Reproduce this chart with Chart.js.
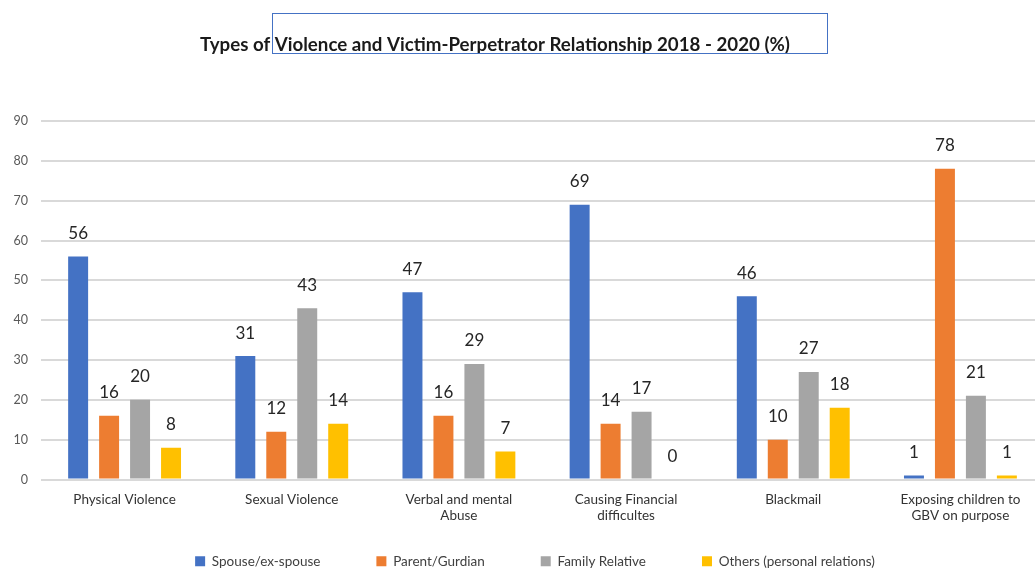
<!DOCTYPE html>
<html>
<head>
<meta charset="utf-8">
<title>Types of Violence and Victim-Perpetrator Relationship</title>
<script src="https://cdn.jsdelivr.net/npm/chart.js@4.4.1/dist/chart.umd.min.js"></script>
<style>
    html, body { margin: 0; padding: 0; background: #fff; overflow: hidden; }
    #wrap { position: relative; width: 1044px; height: 578px; }
</style>
</head>
<body>
<div id="wrap"><canvas id="violenceChart"></canvas></div>
<script>
const categories = [
    'Physical Violence',
    'Sexual Violence',
    ['Verbal and mental', 'Abuse'],
    ['Causing Financial', 'difficultes'],
    'Blackmail',
    ['Exposing children to', 'GBV on purpose']
];
const seriesNames = ['Spouse/ex-spouse', 'Parent/Gurdian', 'Family Relative', 'Others (personal relations)'];
const spouse = [56, 31, 47, 69, 46, 1];
const parent = [16, 12, 16, 14, 10, 78];
const familyRelative = [20, 43, 29, 17, 27, 21];
const others = [8, 14, 7, 0, 18, 1];
const yTicks = [0, 10, 20, 30, 40, 50, 60, 70, 80, 90];
const chartTitle = 'Types of Violence and Victim-Perpetrator Relationship 2018 - 2020 (%)';

const colors = ['#4472C4', '#ED7D31', '#A5A5A5', '#FFC000'];
const FONT = 'Lato, "Noto Sans", sans-serif';

// title and the text-box outline sitting on it
const titlePlugin = {
    id: 'excelTitle',
    afterDraw(chart) {
        const ctx = chart.ctx;
        ctx.save();
        ctx.font = 'bold 19.5px ' + FONT;
        ctx.fillStyle = '#1a1a1a';
        ctx.textAlign = 'center';
        ctx.textBaseline = 'middle';
        ctx.fillText(chartTitle, 495, 45, 590);
        ctx.strokeStyle = '#4472C4';
        ctx.lineWidth = 1;
        ctx.strokeRect(272.5, 13.5, 555, 40);
        ctx.restore();
    }
};

// value labels above each bar
const valueLabels = {
    id: 'valueLabels',
    afterDatasetsDraw(chart) {
        const ctx = chart.ctx;
        ctx.save();
        ctx.font = '17px ' + FONT;
        ctx.fillStyle = '#262626';
        ctx.textAlign = 'center';
        ctx.textBaseline = 'middle';
        chart.data.datasets.forEach((ds, i) => {
            chart.getDatasetMeta(i).data.forEach((bar, j) => {
                ctx.fillText(String(ds.data[j]), bar.x, bar.y - 23);
            });
        });
        ctx.restore();
    }
};

// tick labels spill past their narrow boxes, so don't clip them
function noLabelClip(scale) {
    scale._computeLabelArea = () => undefined;
}

const ctx = document.getElementById('violenceChart').getContext('2d');
new Chart(ctx, {
    type: 'bar',
    data: {
        labels: categories,
        datasets: [spouse, parent, familyRelative, others].map((d, i) => ({
            label: seriesNames[i],
            data: d,
            backgroundColor: colors[i],
            borderWidth: 0,
            categoryPercentage: 0.741,
            barPercentage: 0.645
        }))
    },
    options: {
        responsive: true,
        maintainAspectRatio: false,
        animation: false,
        layout: { padding: { top: 121, left: 26, right: 0, bottom: 0 } },
        plugins: {
            title: { display: false },
            tooltip: { enabled: false },
            legend: {
                position: 'bottom',
                labels: {
                    boxWidth: 10,
                    boxHeight: 10,
                    padding: 56,
                    color: '#404040',
                    font: { family: FONT, size: 13.5 }
                }
            }
        },
        scales: {
            x: {
                grid: { display: false, drawTicks: false },
                border: { display: false },
                ticks: {
                    padding: 12,
                    maxRotation: 0,
                    autoSkip: false,
                    color: '#333333',
                    font: { family: FONT, size: 13.5, lineHeight: 1.2 }
                },
                afterFit(scale) {
                    scale.height = 75 - 56;
                    noLabelClip(scale);
                }
            },
            y: {
                min: 0,
                max: 90,
                afterBuildTicks(scale) { scale.ticks = yTicks.map(v => ({ value: v })); },
                grid: { color: '#d9d9d9', lineWidth: 2, drawTicks: false },
                border: { display: false },
                ticks: {
                    padding: 13,
                    color: '#595959',
                    font: { family: FONT, size: 12.5 }
                },
                afterFit(scale) {
                    scale.width = 15;
                    noLabelClip(scale);
                }
            }
        }
    },
    plugins: [titlePlugin, valueLabels]
});
</script>
</body>
</html>
